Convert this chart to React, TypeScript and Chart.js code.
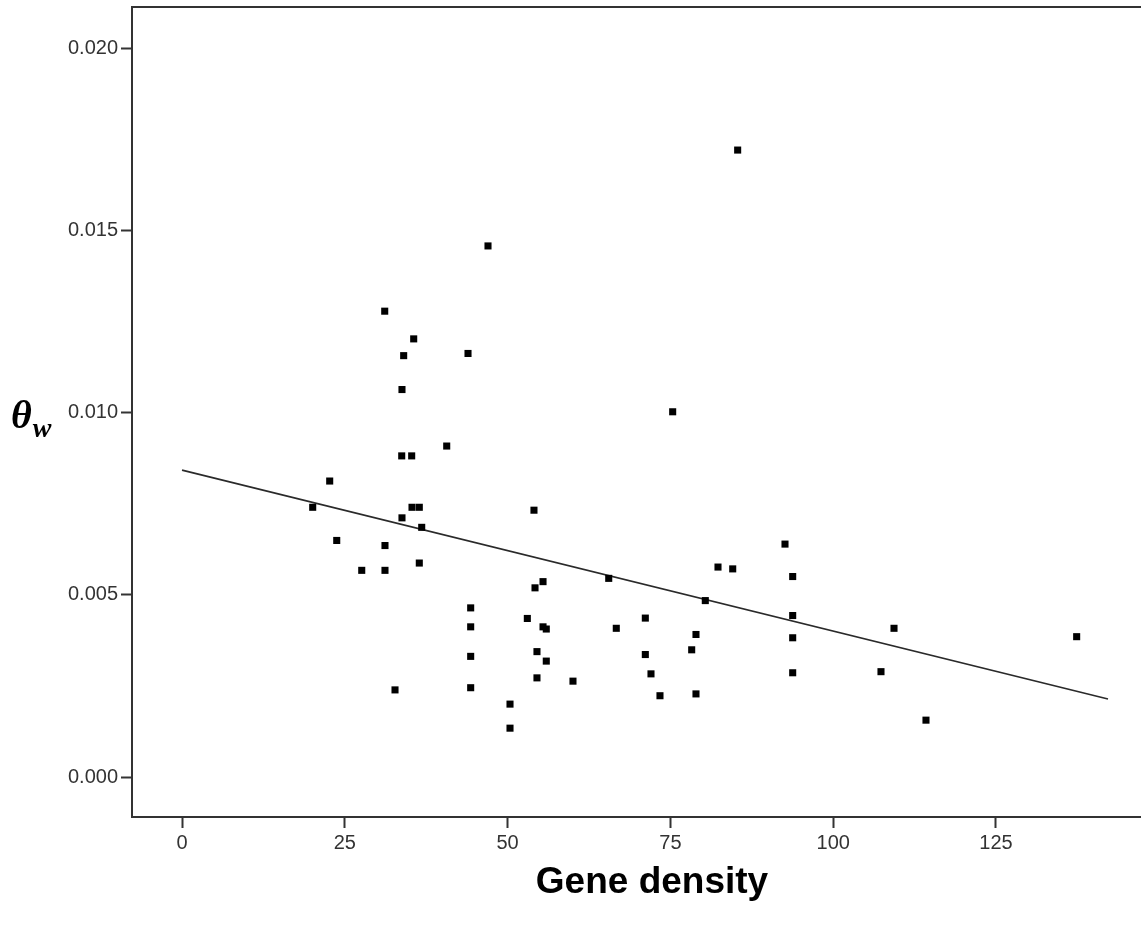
import React, { useEffect, useRef } from "react";
import { Chart, registerables } from "chart.js";

Chart.register(...registerables);

// Gene density (x) for each locus
const geneDensity = [
  20.07, 22.68, 23.76, 27.6, 31.17, 31.17, 31.13, 32.71, 33.78, 34.04,
  33.74, 33.78, 35.27, 35.32, 35.58, 36.44, 36.81, 36.44, 40.65, 43.92,
  44.33, 44.33, 44.33, 44.33, 46.99, 50.37, 50.37, 54.05, 54.21, 55.44,
  53.03, 55.44, 55.94, 54.51, 55.94, 54.51, 60.04, 65.53, 66.69, 71.15,
  71.15, 72.02, 73.4, 75.35, 78.27, 78.93, 78.93, 80.36, 82.31, 84.57,
  85.33, 92.6, 93.78, 93.78, 93.78, 93.78, 107.34, 109.34, 114.25, 137.39,
];

// Watterson's theta (y) for each locus
const thetaW = [
  0.0074, 0.00812, 0.00649, 0.00567, 0.00567, 0.00635, 0.01278, 0.00239, 0.01063, 0.01156,
  0.00881, 0.00711, 0.00881, 0.0074, 0.01202, 0.0074, 0.00685, 0.00587, 0.00908, 0.01162,
  0.00464, 0.00412, 0.00331, 0.00245, 0.01457, 0.002, 0.00134, 0.00732, 0.00519, 0.00536,
  0.00435, 0.00412, 0.00406, 0.00344, 0.00318, 0.00272, 0.00263, 0.00545, 0.00408, 0.00436,
  0.00336, 0.00283, 0.00223, 0.01002, 0.00349, 0.00391, 0.00228, 0.00484, 0.00576, 0.00571,
  0.0172, 0.00639, 0.0055, 0.00443, 0.00382, 0.00286, 0.00289, 0.00408, 0.00156, 0.00385,
];

// Fitted regression line end points
const fitX = [0, 142.2];
const fitY = [0.00842, 0.00214];

const xTicks = [0, 25, 50, 75, 100, 125];
const yTicks = [0, 0.005, 0.01, 0.015, 0.02];

const xTitle = "Gene density";
const yTitleMain = "θ";
const yTitleSub = "w";

const SANS = "'Liberation Sans', Arial, sans-serif";
const SERIF = "'Liberation Serif', 'Times New Roman', serif";
const INK = "#333333";

const framePlugin = {
  id: "frameAndTitles",
  afterDraw(chart: any) {
    const { ctx, chartArea } = chart;
    ctx.save();
    ctx.strokeStyle = INK;
    ctx.lineWidth = 2;
    ctx.beginPath();
    ctx.moveTo(chartArea.left, chartArea.top);
    ctx.lineTo(chartArea.right + 2, chartArea.top);
    ctx.stroke();

    // x-axis title
    ctx.fillStyle = "#000";
    ctx.textAlign = "center";
    ctx.textBaseline = "alphabetic";
    ctx.font = `bold 37px ${SANS}`;
    ctx.fillText(xTitle, 652, 893);

    // y-axis title theta_w
    ctx.textAlign = "left";
    ctx.font = `bold italic 40px ${SERIF}`;
    ctx.fillText(yTitleMain, 11, 428);
    const w = ctx.measureText(yTitleMain).width;
    ctx.font = `bold italic 28px ${SERIF}`;
    ctx.fillText(yTitleSub, 11 + w + 1, 437);
    ctx.restore();
  },
};

export default function App() {
  const ref = useRef<HTMLCanvasElement | null>(null);

  useEffect(() => {
    if (!ref.current) return;
    const points = geneDensity.map((x, i) => ({ x, y: thetaW[i] }));
    const line = fitX.map((x, i) => ({ x, y: fitY[i] }));
    const chart = new Chart(ref.current, {
      type: "scatter",
      data: {
        datasets: [
          {
            label: "Loci",
            data: points,
            pointStyle: "rect",
            pointRadius: 5,
            pointBackgroundColor: "#000",
            pointBorderWidth: 0,
            borderWidth: 0,
            order: 1,
          },
          {
            type: "line",
            label: "Fit",
            data: line,
            showLine: true,
            borderColor: "#2a2a2a",
            borderWidth: 1.6,
            pointRadius: 0,
            fill: false,
            order: 2,
          } as any,
        ],
      },
      options: {
        animation: false,
        responsive: true,
        maintainAspectRatio: false,
        layout: { autoPadding: false, padding: { left: 0, right: 0, top: 7, bottom: 0 } },
        plugins: {
          legend: { display: false },
          tooltip: { enabled: false },
          title: { display: false },
        },
        scales: {
          x: {
            type: "linear",
            min: -7.68,
            max: 147.27,
            afterBuildTicks: (s: any) => {
              s.ticks = xTicks.map((v) => ({ value: v }));
            },
            afterFit: (s: any) => {
              s.height = 111;
              s.paddingLeft = 0;
              s.paddingRight = 0;
              s.paddingTop = 0;
              s.paddingBottom = 0;
            },
            grid: {
              drawOnChartArea: false,
              drawTicks: true,
              tickLength: 11,
              tickWidth: 2,
              tickColor: INK,
            },
            border: { display: true, color: INK, width: 2 },
            ticks: {
              padding: 3,
              color: INK,
              font: { family: SANS, size: 20 },
              maxRotation: 0,
              autoSkip: false,
              callback: (v: any) => String(v),
            },
          },
          y: {
            type: "linear",
            min: -0.001097,
            max: 0.021125,
            afterBuildTicks: (s: any) => {
              s.ticks = yTicks.map((v) => ({ value: v }));
            },
            afterFit: (s: any) => {
              s.width = 132;
              s.paddingLeft = 0;
              s.paddingRight = 0;
              s.paddingTop = 0;
              s.paddingBottom = 0;
            },
            grid: {
              drawOnChartArea: false,
              drawTicks: true,
              tickLength: 11,
              tickWidth: 2,
              tickColor: INK,
            },
            border: { display: true, color: INK, width: 2 },
            ticks: {
              padding: 3,
              color: INK,
              font: { family: SANS, size: 20 },
              autoSkip: false,
              callback: (v: any) => Number(v).toFixed(3),
            },
          },
        },
      },
      plugins: [framePlugin],
    });
    return () => chart.destroy();
  }, []);

  return (
    <div
      style={{
        position: "absolute",
        left: 0,
        top: 0,
        width: 1141,
        height: 928,
        background: "#fff",
      }}
    >
      <canvas ref={ref} />
    </div>
  );
}
